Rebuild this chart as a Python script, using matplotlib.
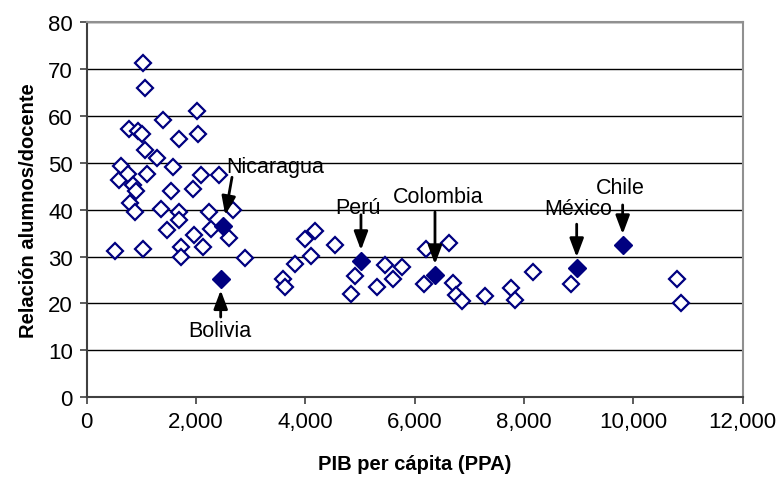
import matplotlib.pyplot as plt

plt.rcParams['font.family'] = ['Liberation Sans', 'DejaVu Sans']

# other countries (open diamonds): PIB per capita (PPA), alumnos/docente
pib = [1024, 1061, 1390, 2012, 774, 944, 1006, 2041, 1688, 1066,
       1280, 1573, 622, 597, 761, 1097, 2097, 2420, 840, 900,
       1540, 1950, 800, 1359, 887, 1690, 1694, 1470, 1960, 1722,
       2133, 518, 1024, 1722, 2237, 2682, 2268, 2609, 2900,
       3585, 3627, 3810, 3993, 4176, 4103, 4547, 4908, 4835, 5304,
       5456, 5762, 5597, 6201, 6175, 6627, 6695, 6750, 6859, 7286,
       7761, 7840, 8170, 8853, 10803, 10871]
ratio = [71.2, 66.0, 59.2, 61.0, 57.1, 56.8, 56.1, 56.1, 55.0, 52.8,
         51.1, 49.1, 49.2, 46.3, 47.6, 47.6, 47.3, 47.3, 45.3, 43.9,
         43.9, 44.3, 41.5, 40.1, 39.4, 39.4, 37.8, 35.6, 34.5, 32.1,
         32.1, 31.2, 31.6, 29.8, 39.4, 40.0, 35.9, 34.0, 29.6,
         25.2, 23.6, 28.5, 33.7, 35.5, 30.2, 32.4, 25.8, 22.0, 23.6,
         28.2, 27.8, 25.2, 31.6, 24.1, 32.9, 24.3, 21.7, 20.6, 21.6,
         23.3, 20.7, 26.8, 24.1, 25.2, 20.1]

# Latin American countries highlighted (filled diamonds)
paises = ['Nicaragua', 'Bolivia', 'Perú', 'Colombia', 'México', 'Chile']
pib_la = [2499, 2451, 5017, 6371, 8963, 9804]
ratio_la = [36.5, 25.2, 29.0, 26.0, 27.5, 32.4]

# label placement: text position, arrow tail
txt_pos = [(2560, 49.3), (2441, 14.3), (4966, 40.5), (6429, 42.7), (8990, 40.3), (9755, 44.8)]
tail_pos = [(2658, 46.9), (2451, 17.1), (5017, 38.9), (6371, 39.5), (8963, 36.9), (9804, 41.0)]
txt_ha = ['left', 'center', 'center', 'center', 'center', 'center']

navy = '#000080'

fig = plt.figure(figsize=(7.79, 4.85), dpi=100)
ax = fig.add_axes([0.1113, 0.1788, 0.8421, 0.7738])

ax.set_xlim(0, 12000)
ax.set_ylim(0, 80)
ax.set_xticks(range(0, 12001, 2000))
ax.set_yticks(range(0, 81, 10))
ax.set_xticklabels([f'{v:,}' for v in range(0, 12001, 2000)])
ax.yaxis.grid(True, color='black', lw=1)
ax.set_axisbelow(True)

ax.plot(pib, ratio, 'D', ms=8, mfc='white', mec=navy, mew=1.6, ls='none')
ax.plot(pib_la, ratio_la, 'D', ms=9, mfc=navy, mec=navy, mew=1, ls='none')

for name, x, y, tp, tl, ha in zip(paises, pib_la, ratio_la, txt_pos, tail_pos, txt_ha):
    ax.annotate('', xy=(x, y), xytext=tl,
                arrowprops=dict(arrowstyle='-|>,head_length=0.8,head_width=0.3',
                                color='black', lw=2, shrinkA=0, shrinkB=8,
                                mutation_scale=14))
    ax.text(tp[0], tp[1], name, ha=ha, va='center', fontsize=15.5)

for s in ['left', 'bottom']:
    ax.spines[s].set_color('#404040')
for s in ['top', 'right']:
    ax.spines[s].set_color('#909090')
for s in ax.spines.values():
    s.set_linewidth(1.5)
ax.tick_params(direction='out', length=5, width=1.2, color='#404040', labelsize=16, pad=5)

ax.set_xlabel('PIB per cápita (PPA)', fontsize=14.5, fontweight='bold', labelpad=16)
ax.set_ylabel('Relación alumnos/docente', fontsize=14.5, fontweight='bold', labelpad=7)

fig.savefig('out.png', dpi=100)
